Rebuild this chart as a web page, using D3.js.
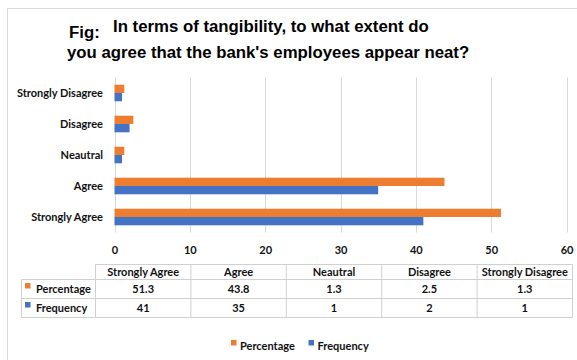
<!DOCTYPE html>
<html>
<head>
<meta charset="utf-8">
<script src="https://cdn.jsdelivr.net/npm/d3@7"></script>
<style>
  html, body { margin: 0; padding: 0; background: #fff; }
  svg { display: block; }
  text { font-family: Lato, "Open Sans", sans-serif; font-weight: bold; fill: #111; }
  .title { font-family: "Liberation Sans", Arial, sans-serif; font-size: 16.8px; fill: #000; }
</style>
</head>
<body>
<script>
// Survey responses: bank employees appearing neat
const categories = ["Strongly Agree", "Agree", "Neautral", "Disagree", "Strongly Disagree"];
const percentage = [51.3, 43.8, 1.3, 2.5, 1.3];
const frequency = [41, 35, 1, 2, 1];
const seriesNames = ["Percentage", "Frequency"];
const seriesColors = ["#ED7D31", "#4472C4"];
const xTicks = [0, 10, 20, 30, 40, 50, 60];

const W = 577, H = 360;
const FS = 11;
const svg = d3.select("body").append("svg").attr("width", W).attr("height", H);

// outer chart frame
svg.append("rect")
  .attr("x", 7.5).attr("y", 8.5).attr("width", W + 10).attr("height", H + 10)
  .attr("fill", "#fff").attr("stroke", "#d9d9d9");

// title
svg.append("text").attr("class", "title").attr("x", 69).attr("y", 38).text("Fig:");
svg.append("text").attr("class", "title").attr("x", 113).attr("y", 32)
  .text("In terms of tangibility, to what extent do");
svg.append("text").attr("class", "title").attr("x", 67).attr("y", 58)
  .text("you agree that the bank's employees appear neat?");

// scales
const x = d3.scaleLinear().domain([0, 60]).range([114.5, 566.5]);
const y = d3.scaleBand().domain(categories.slice().reverse()).range([77.5, 232.5])
  .paddingInner(0.465).paddingOuter(0.2325);
const ySub = d3.scaleBand().domain(seriesNames).range([0, y.bandwidth()]);

// gridlines
svg.append("g").selectAll("line").data(xTicks).join("line")
  .attr("x1", d => Math.round(x(d)) + 0.5).attr("x2", d => Math.round(x(d)) + 0.5)
  .attr("y1", 77.5).attr("y2", 232.5)
  .attr("stroke", "#d9d9d9").attr("stroke-width", 1);

// x axis labels
const xAxis = d3.axisBottom(x).tickValues(xTicks).tickSize(0).tickPadding(0);
const gx = svg.append("g").attr("transform", "translate(0,246)").call(xAxis);
gx.select(".domain").remove();
gx.selectAll("text").attr("font-size", FS).attr("font-family", "Lato, sans-serif")
  .attr("font-weight", "bold").attr("fill", "#111");

// y axis labels
const yAxis = d3.axisLeft(y).tickSize(0).tickPadding(0);
const gy = svg.append("g").attr("transform", "translate(103,0)").call(yAxis);
gy.select(".domain").remove();
gy.selectAll("text").attr("font-size", FS).attr("font-family", "Lato, sans-serif")
  .attr("font-weight", "bold").attr("fill", "#111");

// bars
const seriesValues = [percentage, frequency];
seriesNames.forEach((name, si) => {
  svg.append("g").selectAll("rect").data(categories).join("rect")
    .attr("x", x(0))
    .attr("y", (c) => y(c) + ySub(name))
    .attr("width", (c, i) => x(seriesValues[si][i]) - x(0))
    .attr("height", ySub.bandwidth())
    .attr("fill", seriesColors[si]);
});

// data table
const tableLeft = 95.5, tableRight = 572.5, labelLeft = 21.5;
const rowTops = [264.5, 279.5, 298.5, 317.5];
const col = d3.scaleBand().domain(categories).range([tableLeft, tableRight]);
const tbl = svg.append("g");
const gridColor = "#d0d0d0";

// horizontal rules
tbl.append("line").attr("x1", tableLeft).attr("x2", tableRight)
  .attr("y1", rowTops[0]).attr("y2", rowTops[0]).attr("stroke", gridColor);
rowTops.slice(1).forEach(t => {
  tbl.append("line").attr("x1", labelLeft).attr("x2", tableRight)
    .attr("y1", t).attr("y2", t).attr("stroke", gridColor);
});
// vertical rules
categories.forEach(c => {
  tbl.append("line").attr("x1", col(c)).attr("x2", col(c))
    .attr("y1", rowTops[0]).attr("y2", rowTops[3]).attr("stroke", gridColor);
});
tbl.append("line").attr("x1", tableRight).attr("x2", tableRight)
  .attr("y1", rowTops[0]).attr("y2", rowTops[3]).attr("stroke", gridColor);
tbl.append("line").attr("x1", labelLeft).attr("x2", labelLeft)
  .attr("y1", rowTops[1]).attr("y2", rowTops[3]).attr("stroke", gridColor);

// header cells
tbl.selectAll("text.hdr").data(categories).join("text").attr("class", "hdr")
  .attr("x", c => col(c) + col.bandwidth() / 2).attr("y", (rowTops[0] + rowTops[1]) / 2 + 4)
  .attr("text-anchor", "middle").attr("font-size", FS).text(c => c);

// value rows
seriesNames.forEach((name, si) => {
  const cy = (rowTops[si + 1] + rowTops[si + 2]) / 2 + 4;
  tbl.append("rect").attr("x", 25).attr("y", cy - 10).attr("width", 5.5).attr("height", 5.5)
    .attr("fill", seriesColors[si]);
  tbl.append("text").attr("x", 36).attr("y", cy).attr("font-size", FS).text(name);
  tbl.selectAll("text.v" + si).data(categories).join("text").attr("class", "v" + si)
    .attr("x", c => col(c) + col.bandwidth() / 2).attr("y", cy)
    .attr("text-anchor", "middle").attr("font-size", FS)
    .text((c, i) => seriesValues[si][i]);
});

// legend
const legendItems = [{ name: seriesNames[0], x: 231 }, { name: seriesNames[1], x: 308.5 }];
const lg = svg.append("g");
legendItems.forEach((d, i) => {
  lg.append("rect").attr("x", d.x).attr("y", 340).attr("width", 5.5).attr("height", 5.5)
    .attr("fill", seriesColors[i]);
  lg.append("text").attr("x", d.x + 9).attr("y", 350).attr("font-size", FS).text(d.name);
});
</script>
</body>
</html>
